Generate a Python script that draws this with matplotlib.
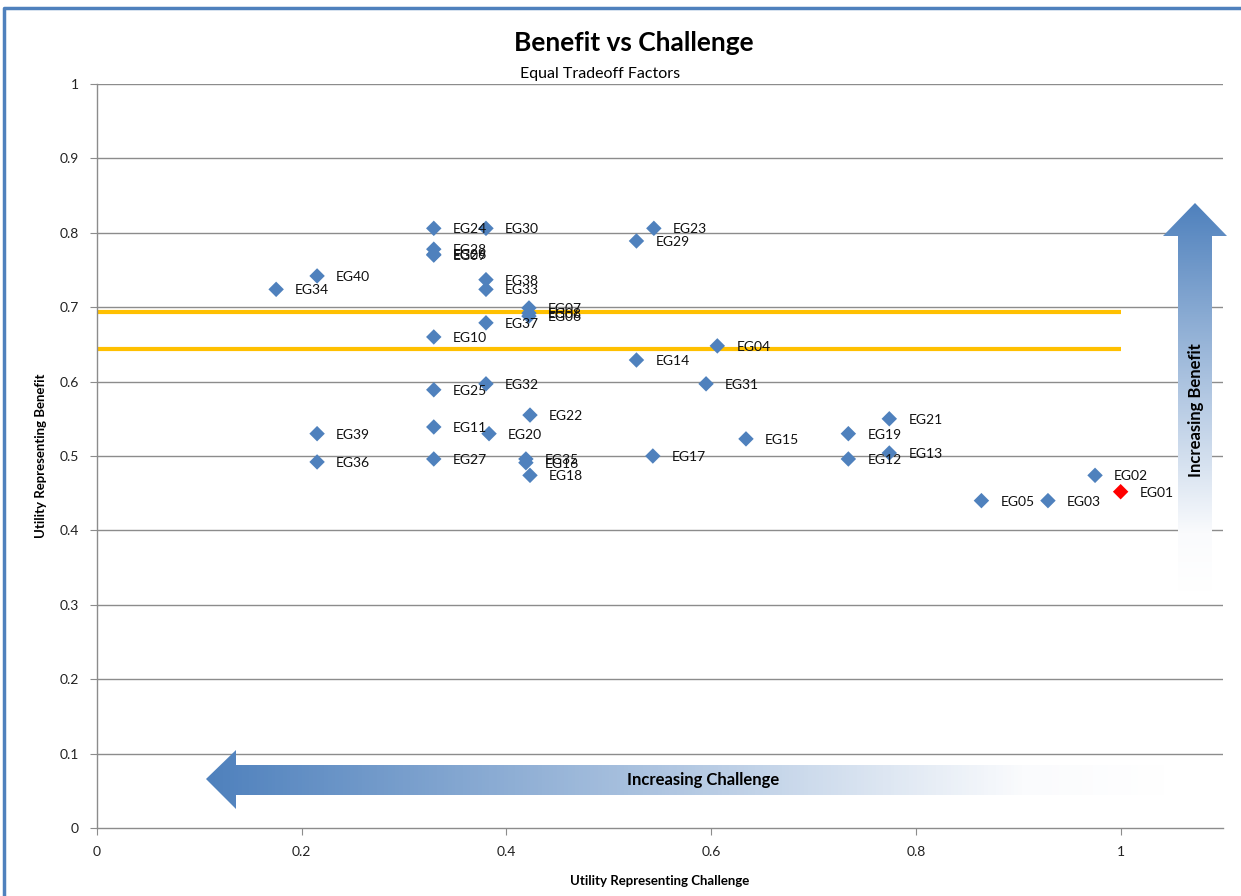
import numpy as np
import matplotlib
matplotlib.use("Agg")
import matplotlib.pyplot as plt
from matplotlib.patches import Polygon
from matplotlib.colors import LinearSegmentedColormap

plt.rcParams['font.family'] = ['Lato', 'DejaVu Sans']

names = ["EG01", "EG02", "EG03", "EG04", "EG05", "EG06", "EG07", "EG08", "EG09", "EG10",
         "EG11", "EG12", "EG13", "EG14", "EG15", "EG16", "EG17", "EG18", "EG19", "EG20",
         "EG21", "EG22", "EG23", "EG24", "EG25", "EG26", "EG27", "EG28", "EG29", "EG30",
         "EG31", "EG32", "EG33", "EG34", "EG35", "EG36", "EG37", "EG38", "EG39", "EG40"]
challenge = [1.000, 0.975, 0.929, 0.606, 0.864, 0.422, 0.422, 0.422, 0.329, 0.329,
             0.329, 0.734, 0.774, 0.527, 0.634, 0.419, 0.543, 0.423, 0.734, 0.383,
             0.774, 0.423, 0.544, 0.329, 0.329, 0.329, 0.329, 0.329, 0.527, 0.380,
             0.595, 0.380, 0.380, 0.175, 0.419, 0.215, 0.380, 0.380, 0.215, 0.215]
benefit = [0.452, 0.474, 0.440, 0.648, 0.440, 0.688, 0.699, 0.692, 0.770, 0.660,
           0.539, 0.496, 0.504, 0.629, 0.523, 0.491, 0.500, 0.474, 0.530, 0.530,
           0.550, 0.555, 0.806, 0.806, 0.589, 0.771, 0.496, 0.778, 0.789, 0.806,
           0.597, 0.597, 0.724, 0.724, 0.496, 0.492, 0.679, 0.737, 0.530, 0.742]
highlight = "EG01"
thresholds = [0.694, 0.644]
threshold_span = [0, 1]
x_ticks = [0, 0.2, 0.4, 0.6, 0.8, 1]
x_tick_labels = ["0", "0.2", "0.4", "0.6", "0.8", "1"]
y_ticks = [0, 0.1, 0.2, 0.3, 0.4, 0.5, 0.6, 0.7, 0.8, 0.9, 1]
y_tick_labels = ["0", "0.1", "0.2", "0.3", "0.4", "0.5", "0.6", "0.7", "0.8", "0.9", "1"]

W, H = 1241, 896
fig = plt.figure(figsize=(W / 100, H / 100), dpi=100)
fig.patch.set_facecolor("white")

ax = fig.add_axes([97 / W, (H - 828) / H, (1223 - 97) / W, (828 - 84) / H])
ax.set_xlim(0, 1.1)
ax.set_ylim(0, 1)

BLUE = "#4F81BD"
GRID = "#8C8C8C"

for yt in y_ticks[1:]:
    ax.axhline(yt, color=GRID, lw=1.0, zorder=1)

for t in thresholds:
    ax.plot(threshold_span, [t, t], color="#FFC000", lw=3, zorder=2, solid_capstyle="butt")

colors = ["#FF0000" if n == highlight else BLUE for n in names]
ax.scatter(challenge, benefit, marker="D", s=62, c=colors, edgecolors="none", zorder=4)
for n, xv, yv in zip(names, challenge, benefit):
    ax.annotate(n, (xv, yv), xytext=(19, -1), textcoords="offset pixels",
                va="center", ha="left", fontsize=10, color="#111111", zorder=5)

for s in ["top", "right"]:
    ax.spines[s].set_visible(False)
for s in ["left", "bottom"]:
    ax.spines[s].set_color(GRID)
    ax.spines[s].set_linewidth(1.0)

ax.set_xticks(x_ticks)
ax.set_xticklabels(x_tick_labels)
ax.set_yticks(y_ticks)
ax.set_yticklabels(y_tick_labels)
ax.tick_params(axis="both", direction="out", length=5, color=GRID, labelsize=10,
               labelcolor="#222222")
ax.tick_params(axis="x", pad=8)
ax.tick_params(axis="y", pad=8)

ax.set_xlabel("Utility Representing Challenge", fontsize=9.5, fontweight="bold", labelpad=12)
ax.set_ylabel("Utility Representing Benefit", fontsize=9.5, fontweight="bold", labelpad=9)

# Overlay in pixel coordinates for title, arrows and frame
ov = fig.add_axes([0, 0, 1, 1], zorder=10)
ov.set_xlim(0, W)
ov.set_ylim(H, 0)
ov.axis("off")
ov.patch.set_alpha(0)

ov.text(634, 43, "Benefit vs Challenge", ha="center", va="center", fontsize=19, fontweight="bold")
ov.text(600, 74, "Equal Tradeoff Factors", ha="center", va="center", fontsize=11.5)

ov.plot([4, 4, W + 5], [H + 5, 8, 8], color=BLUE, lw=2.5, clip_on=False)

cmap = LinearSegmentedColormap.from_list("g", [(0, BLUE), (0.85, "#FAFBFD"), (1, "#FFFFFF")])

# vertical arrow (blue at top, white at bottom)
vpts = [(1195, 203), (1227, 236), (1212, 236), (1212, 592), (1178, 592), (1178, 236), (1163, 236)]
vpoly = Polygon(vpts, closed=True, facecolor="none", edgecolor="none")
ov.add_patch(vpoly)
grad_v = np.linspace(0, 1, 256).reshape(-1, 1)
im = ov.imshow(grad_v, cmap=cmap, extent=(1163, 1227, 592, 203), aspect="auto",
               interpolation="bilinear", zorder=3)
im.set_clip_path(vpoly)
ov.text(1196, 410, "Increasing Benefit", rotation=90, ha="center", va="center",
        fontsize=12, fontweight="bold", zorder=4)

# horizontal arrow (blue at left, white at right)
hpts = [(206, 779), (236, 750), (236, 765), (1170, 765), (1170, 795), (236, 795), (236, 809)]
hpoly = Polygon(hpts, closed=True, facecolor="none", edgecolor="none")
ov.add_patch(hpoly)
grad_h = np.linspace(0, 1, 256).reshape(1, -1)
im2 = ov.imshow(grad_h, cmap=cmap, extent=(206, 1170, 809, 750), aspect="auto",
                interpolation="bilinear", zorder=3)
im2.set_clip_path(hpoly)
ov.text(703, 780, "Increasing Challenge", ha="center", va="center",
        fontsize=12, fontweight="bold", zorder=4)
ov.set_xlim(0, W)
ov.set_ylim(H, 0)

fig.savefig("out.png", dpi=100)
